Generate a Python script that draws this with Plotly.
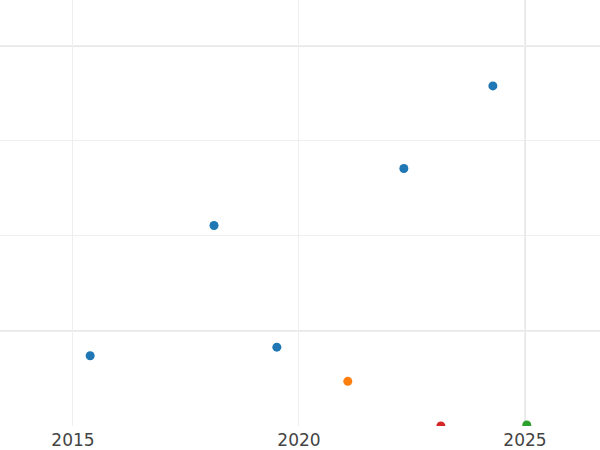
import plotly.graph_objects as go

# data
blue_x = [2015.38, 2018.12, 2019.51, 2022.32, 2024.29]
blue_y = [-0.26, 1.11, -0.17, 1.71, 2.58]
orange_x = [2021.08]
orange_y = [-0.53]
red_x = [2023.14]
red_y = [-1.0]
green_x = [2025.04]
green_y = [-0.99]

x_ticks = [2015, 2020, 2025]
thick_h = [0, 3]
thick_v = [2025]

fig = go.Figure()
for xs, ys, c in [(blue_x, blue_y, "#1f77b4"), (orange_x, orange_y, "#ff7f0e"),
                  (green_x, green_y, "#2ca02c"), (red_x, red_y, "#d62728")]:
    fig.add_trace(go.Scatter(x=xs, y=ys, mode="markers",
                             marker=dict(color=c, size=9), cliponaxis=True,
                             showlegend=False))

for h in thick_h:
    fig.add_hline(y=h, line=dict(color="#e8e8e8", width=2), layer="below")
for v in thick_v:
    fig.add_vline(x=v, line=dict(color="#e8e8e8", width=2), layer="below")

fig.update_layout(
    width=600, height=450,
    margin=dict(l=0, r=0, t=0, b=24),
    paper_bgcolor="white", plot_bgcolor="white",
    font=dict(family="DejaVu Sans", size=17, color="#444"),
    xaxis=dict(range=[2013.385, 2026.66], tickvals=x_ticks, showgrid=True,
               gridcolor="#eeeeee", gridwidth=1, zeroline=False, showline=False,
               ticks="", ticklabelstandoff=2,
               tickfont=dict(family="DejaVu Sans", size=17, color="#444")),
    yaxis=dict(range=[-1.0, 3.484], dtick=1, showgrid=True, gridcolor="#eeeeee",
               gridwidth=1, zeroline=False, showticklabels=False, showline=False),
)
fig.write_html("out.html", config={"displayModeBar": False},
               post_script="document.body.style.margin='0';document.body.style.overflow='hidden';")
